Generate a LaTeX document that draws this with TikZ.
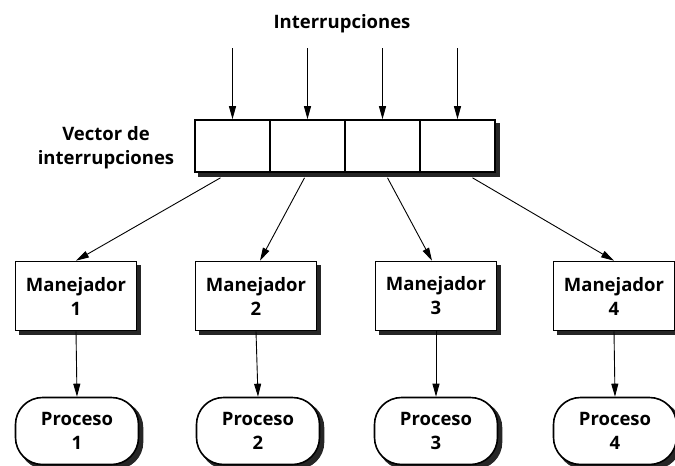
\documentclass[tikz,border=0pt]{standalone}
\usepackage{fontspec}
\setmainfont{Open Sans}
\usetikzlibrary{arrows.meta,backgrounds}

\begin{document}
\begin{tikzpicture}[x=1pt, y=-1pt, font=\bfseries\fontsize{18.5}{24}\selectfont,
  flecha/.style={-{Triangle[length=13pt,width=7pt]}, line width=0.9pt},
  sombra/.style={fill=black!85},
  celda/.style={draw, line width=1.6pt, fill=white, inner sep=0pt,
    minimum width=75pt, minimum height=52pt},
  manejador/.style={draw, line width=1.6pt, fill=white, align=center,
    inner sep=0pt, minimum width=121pt, minimum height=69pt},
  proceso/.style={draw, line width=1.6pt, fill=white, align=center,
    rounded corners=27pt, inner sep=0pt, minimum width=123pt, minimum height=67pt}]
\useasboundingbox (0,0) rectangle (675,466);

\node (titulo) at (342,24) {Interrupciones};
\node[align=center] (etiqueta) at (106,148) {Vector de\\interrupciones};

% vector de interrupciones
\node[celda] (c1) at (232.5,146) {};
\node[celda] (c2) at (307.5,146) {};
\node[celda] (c3) at (382.5,146) {};
\node[celda] (c4) at (457.5,146) {};

\coordinate (e1) at (232.5,48);
\coordinate (e2) at (307.5,48);
\coordinate (e3) at (382.5,48);
\coordinate (e4) at (457.5,48);
\draw[flecha] (e1) -- (c1.north);
\draw[flecha] (e2) -- (c2.north);
\draw[flecha] (e3) -- (c3.north);
\draw[flecha] (e4) -- (c4.north);

% manejadores
\node[manejador] (m1) at (76,296) {Manejador\\1};
\node[manejador] (m2) at (256,296) {Manejador\\2};
\node[manejador] (m3) at (436,296) {Manejador\\3};
\node[manejador] (m4) at (614,296) {Manejador\\4};

\coordinate (s1) at ([xshift=-12pt, yshift=-5pt]c1.south);
\coordinate (s2) at ([xshift=-3pt, yshift=-5pt]c2.south);
\coordinate (s3) at ([xshift=5pt, yshift=-5pt]c3.south);
\coordinate (s4) at ([xshift=15pt, yshift=-5pt]c4.south);
\draw[flecha] (s1) -- (m1.north);
\draw[flecha] (s2) -- ([xshift=4pt]m2.north);
\draw[flecha] (s3) -- ([xshift=-4pt]m3.north);
\draw[flecha] (s4) -- (m4.north);

% procesos
\node[proceso] (p1) at (77,431) {Proceso\\1};
\node[proceso] (p2) at (258,431) {Proceso\\2};
\node[proceso] (p3) at (436,431) {Proceso\\3};
\node[proceso] (p4) at (615,431) {Proceso\\4};

\draw[flecha] (m1.south) -- (p1.north);
\draw[flecha] (m2.south) -- (p2.north);
\draw[flecha] (m3.south) -- (p3.north);
\draw[flecha] (m4.south) -- (p4.north);

% sombras
\begin{scope}[on background layer]
\fill[sombra] ([shift={(4,4)}]c1.south west) rectangle ([shift={(4,4)}]c4.north east);
\fill[sombra] ([shift={(4,4)}]m1.south west) rectangle ([shift={(4,4)}]m1.north east);
\fill[sombra] ([shift={(4,4)}]m2.south west) rectangle ([shift={(4,4)}]m2.north east);
\fill[sombra] ([shift={(4,4)}]m3.south west) rectangle ([shift={(4,4)}]m3.north east);
\fill[sombra] ([shift={(4,4)}]m4.south west) rectangle ([shift={(4,4)}]m4.north east);
\fill[sombra, rounded corners=27pt] ([shift={(4,4)}]p1.south west) rectangle ([shift={(4,4)}]p1.north east);
\fill[sombra, rounded corners=27pt] ([shift={(4,4)}]p2.south west) rectangle ([shift={(4,4)}]p2.north east);
\fill[sombra, rounded corners=27pt] ([shift={(4,4)}]p3.south west) rectangle ([shift={(4,4)}]p3.north east);
\fill[sombra, rounded corners=27pt] ([shift={(4,4)}]p4.south west) rectangle ([shift={(4,4)}]p4.north east);
\end{scope}
\end{tikzpicture}
\end{document}
